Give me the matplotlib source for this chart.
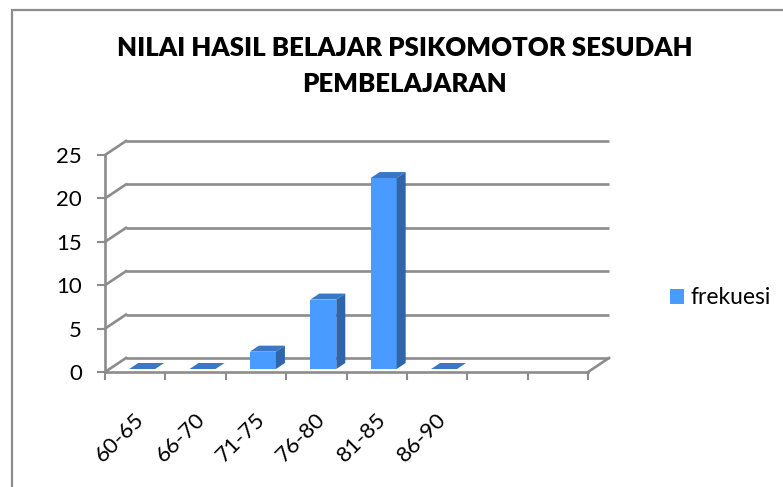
import matplotlib
matplotlib.use("Agg")
import matplotlib.pyplot as plt
import matplotlib.transforms as mtransforms
from matplotlib.patches import Polygon, Rectangle
from matplotlib.lines import Line2D

plt.rcParams['font.family'] = ['Lato', 'DejaVu Sans']

# data
#------------------------------
categories = ['60-65', '66-70', '71-75', '76-80', '81-85', '86-90']
frekuesi = [0, 0, 2, 8, 22, 0]
n_slots = 8  # excel left two empty slots on the axis
yticks = [0, 5, 10, 15, 20, 25]
title = 'NILAI HASIL BELAJAR PSIKOMOTOR SESUDAH\nPEMBELAJARAN'
#------------------------------

W, H = 783, 487
grid_c = '#8c8c8c'
front_c = '#4a9bff'
side_c = '#2f65aa'
top_c = '#3a77c6'

WALL_DX, WALL_DY = 21, 14   # depth of back wall in pixels
BAR_DX, BAR_DY = 7, 3       # bar front face offset from floor front
BAR_DEPTH_X, BAR_DEPTH_Y = 9, 6
bar_w = 0.43

fig = plt.figure(figsize=(W / 100, H / 100), dpi=100)
ax = fig.add_axes([105 / W, (H - 372) / H, (588 - 105) / W, (372 - 155) / H])
ax.set_xlim(0, n_slots)
ax.set_ylim(0, 25)
ax.patch.set_visible(False)

ident = mtransforms.IdentityTransform()

def disp(x, y, dx=0, dy=0):
    px, py = ax.transData.transform((x, y))
    return (px + dx, py + dy)

# back wall grid
back = mtransforms.offset_copy(ax.transData, fig, x=WALL_DX, y=WALL_DY, units='dots')
ax.hlines(yticks, 0, n_slots, colors=grid_c, lw=1.9, transform=back, clip_on=False, zorder=1)

# left wall slants + right floor slant
for y in yticks:
    p0 = disp(0, y)
    p1 = disp(0, y, WALL_DX, WALL_DY)
    ax.add_line(Line2D([p0[0], p1[0]], [p0[1], p1[1]], color=grid_c, lw=1.9,
                       transform=ident, clip_on=False, zorder=1))
p0 = disp(n_slots, 0)
p1 = disp(n_slots, 0, WALL_DX, WALL_DY)
ax.add_line(Line2D([p0[0], p1[0]], [p0[1], p1[1]], color=grid_c, lw=1.9,
                   transform=ident, clip_on=False, zorder=1))

# bars
xs = [i + 0.5 for i in range(len(categories))]
front = mtransforms.offset_copy(ax.transData, fig, x=BAR_DX, y=BAR_DY, units='dots')
ax.bar(xs, frekuesi, width=bar_w, color=front_c, lw=0, transform=front,
       zorder=3, clip_on=False, label='frekuesi')
for x, v in zip(xs, frekuesi):
    fl = disp(x - bar_w / 2, v, BAR_DX, BAR_DY)
    fr = disp(x + bar_w / 2, v, BAR_DX, BAR_DY)
    br = (fr[0] + BAR_DEPTH_X, fr[1] + BAR_DEPTH_Y)
    bl = (fl[0] + BAR_DEPTH_X, fl[1] + BAR_DEPTH_Y)
    ax.add_patch(Polygon([fl, fr, br, bl], closed=True, facecolor=top_c, lw=0,
                         transform=ident, clip_on=False, zorder=4))
    if v > 0:
        frb = disp(x + bar_w / 2, 0, BAR_DX, BAR_DY)
        brb = (frb[0] + BAR_DEPTH_X, frb[1] + BAR_DEPTH_Y)
        ax.add_patch(Polygon([frb, fr, br, brb], closed=True, facecolor=side_c, lw=0,
                             transform=ident, clip_on=False, zorder=4))

ax.set_xlim(0, n_slots)
ax.set_ylim(0, 25)

# axes lines and ticks
for s in ['top', 'right']:
    ax.spines[s].set_visible(False)
for s in ['left', 'bottom']:
    ax.spines[s].set_color(grid_c)
    ax.spines[s].set_linewidth(1.9)
    ax.spines[s].set_zorder(5)
ax.set_yticks(yticks)
ax.set_xticks(range(n_slots + 1))
ax.set_xticklabels([])
ax.tick_params(axis='both', which='major', colors=grid_c, width=1.5, length=5.5)
ax.tick_params(axis='y', labelcolor='black', labelsize=16, pad=11)
ax.set_xticks(xs, minor=True)
ax.set_xticklabels(categories, minor=True)
ax.tick_params(axis='x', which='minor', length=0, labelsize=16)
lab_off = mtransforms.ScaledTranslation(-1 / 100, -37 / 100, fig.dpi_scale_trans)
for lbl in ax.get_xticklabels(minor=True):
    lbl.set_rotation(45)
    lbl.set_rotation_mode('anchor')
    lbl.set_ha('right')
    lbl.set_va('top')
    lbl.set_transform(ax.get_xaxis_transform() + lab_off)
    lbl.set_y(0)

# title
fig.text(405 / W, 1 - 66 / H, title, ha='center', va='center', fontsize=18.5,
         fontweight='heavy', linespacing=1.65)

# legend
fig.legend(loc='center left', bbox_to_anchor=(661 / W, 1 - 298 / H), frameon=False,
           fontsize=16.5, handlelength=0.6, handleheight=0.6, handletextpad=0.3,
           borderaxespad=0)

# chart frame (only top and left edges are in view)
fig.add_artist(Rectangle((12, H - 10 - 600), 900, 600, transform=ident, fill=False,
                         edgecolor=grid_c, lw=1.6))

fig.savefig('out.png', dpi=100)
